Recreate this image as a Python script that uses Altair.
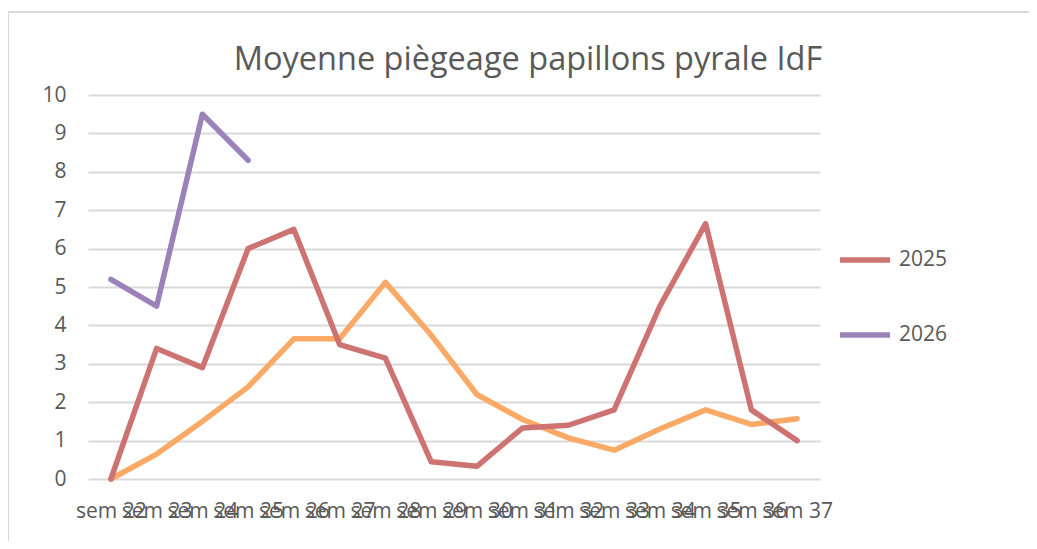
import altair as alt
import pandas as pd

weeks = ["sem 22", "sem 23", "sem 24", "sem 25", "sem 26", "sem 27", "sem 28", "sem 29",
         "sem 30", "sem 31", "sem 32", "sem 33", "sem 34", "sem 35", "sem 36", "sem 37"]
y2025 = [0, 3.4, 2.9, 6.0, 6.5, 3.5, 3.15, 0.45, 0.33, 1.33, 1.4, 1.8, 4.5, 6.65, 1.8, 1.0]
ymoy = [0, 0.65, 1.5, 2.4, 3.65, 3.65, 5.12, 3.75, 2.2, 1.55, 1.07, 0.75, 1.3, 1.8, 1.42, 1.57]
y2026 = [5.2, 4.5, 9.5, 8.3]

series_names = ["Moyenne", "2025", "2026"]
series_colors = ["#FAAA66", "#CD7371", "#9B83BA"]
title_text = "Moyenne piègeage papillons pyrale IdF"

rows = []
for w, v in zip(weeks, ymoy):
    rows.append({"sem": w, "val": v, "serie": "Moyenne", "ord": 0})
for w, v in zip(weeks, y2025):
    rows.append({"sem": w, "val": v, "serie": "2025", "ord": 1})
for w, v in zip(weeks, y2026):
    rows.append({"sem": w, "val": v, "serie": "2026", "ord": 2})
df = pd.DataFrame(rows)

FONT = "Open Sans"
TXT = "#595959"

lines = alt.Chart(df).mark_line(strokeWidth=5.5, strokeCap="round", strokeJoin="round").encode(
    x=alt.X("sem:N", sort=weeks, title=None,
            scale=alt.Scale(type="point", padding=0.5),
            axis=alt.Axis(labelAngle=0, domain=False, ticks=False, labelPadding=21,
                          labelFontSize=21, labelColor=TXT, labelFont=FONT, grid=False)),
    y=alt.Y("val:Q", title=None, scale=alt.Scale(domain=[0, 10], nice=False),
            axis=alt.Axis(values=list(range(0, 11)), domain=False, ticks=False, labelPadding=22,
                          labelFontSize=21, labelColor=TXT, labelFont=FONT,
                          grid=True, gridColor="#D9D9D9", gridWidth=2)),
    color=alt.Color("serie:N", scale=alt.Scale(domain=series_names, range=series_colors),
                    legend=alt.Legend(values=["2025", "2026"], title=None, orient="none",
                                      legendX=749, legendY=137, symbolType="stroke",
                                      symbolSize=2500, symbolStrokeWidth=5.5,
                                      labelFontSize=21, labelColor=TXT, labelFont=FONT,
                                      rowPadding=36, labelOffset=6)),
    detail="serie:N",
    order="ord:Q",
)

border = alt.Chart(pd.DataFrame({"a": [0]})).mark_rect(
    fill=None, stroke="#D9D9D9", strokeWidth=2
).encode(x=alt.value(-80), x2=alt.value(1100), y=alt.value(-83), y2=alt.value(600))

title = alt.Chart(pd.DataFrame({"t": [title_text]})).mark_text(
    font=FONT, fontSize=32.5, color=TXT, align="center", baseline="alphabetic"
).encode(text="t:N", x=alt.value(440), y=alt.value(-25))

chart = alt.layer(border, title, lines).properties(
    width=732, height=384,
    autosize=alt.AutoSizeParams(type="none"),
    padding={"left": 80, "top": 87, "right": 209, "bottom": 62},
).configure_view(stroke=None)

chart.save("out.html", embed_options={"renderer": "svg", "actions": False})
